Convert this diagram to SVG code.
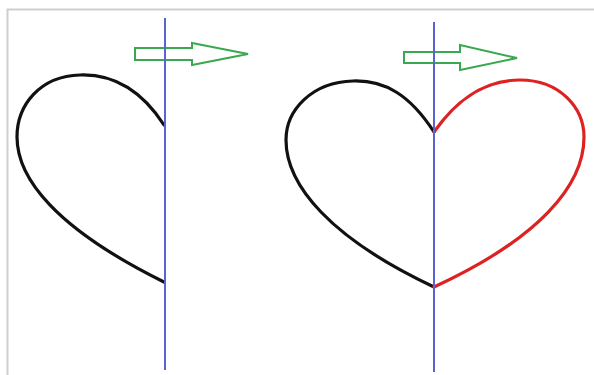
<svg xmlns="http://www.w3.org/2000/svg" width="594" height="375" viewBox="0 0 594 375">
<style>
.frame{fill:none;stroke:#cfcfcf;stroke-width:2}
.axis{stroke:#5b63d0;stroke-width:2;fill:none}
.black{fill:none;stroke:#111;stroke-width:3.2;stroke-linecap:round;stroke-linejoin:round}
.red{fill:none;stroke:#dd2222;stroke-width:3.2;stroke-linecap:round;stroke-linejoin:round}
.arrow{fill:none;stroke:#3aa84e;stroke-width:2;stroke-linejoin:miter}
</style>
<rect width="594" height="375" fill="#fff"/>
<path class="frame" d="M7.5,375 V9.5 H594"/>
<g id="left-figure">
<path class="black" d="M164,125 C140,88 110,74 80,75 C40,76 17,105 17,137 C17,178 55,228 164,282"/>
<path class="arrow" d="M135,48 H192 V43 L248,54 L192,65 V60 H135 Z"/>
<line class="axis" x1="165" y1="18" x2="165" y2="370"/>
</g>
<g id="right-figure">
<path class="black" d="M434,132 C410,95 385,80 353,81 C312,82 286,110 286,140 C286,185 330,238 434,287"/>
<path class="red" d="M434,132 C460,95 488,80 520,80 C560,80 584,108 584,137 C584,185 540,238 434,287"/>
<path class="arrow" d="M404,52 H460 V45 L517,58 L460,70 V63 H404 Z"/>
<line class="axis" x1="434" y1="22" x2="434" y2="372"/>
</g>
</svg>
